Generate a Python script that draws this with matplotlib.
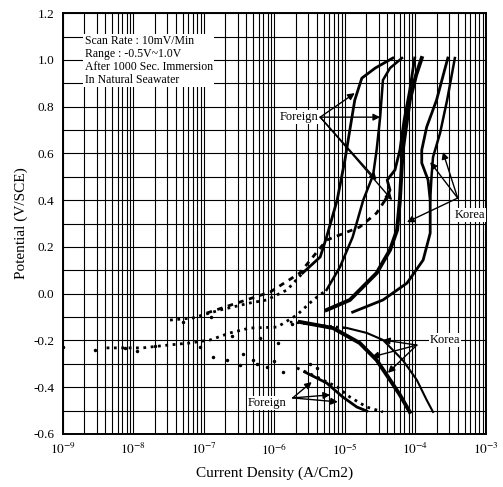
import numpy as np
import matplotlib.pyplot as plt
from matplotlib.ticker import LogLocator, MultipleLocator, FixedLocator, NullFormatter

plt.rcParams['font.family'] = ['Liberation Serif', 'DejaVu Serif']
plt.rcParams['mathtext.fontset'] = 'stix'

# log10(current density, A/cm2) and potential (V/SCE)
# foreign anodic branches
f1_dot_logi = [-7.48, -7.16, -6.77, -6.35, -6.11, -5.82, -5.60]
f1_dot_e = [-0.113, -0.104, -0.070, -0.040, -0.027, 0.016, 0.088]
f1_logi = [-5.60, -5.35, -5.26, -5.11, -5.00, -4.93, -4.86, -4.76, -4.57, -4.32]
f1_e = [0.088, 0.157, 0.242, 0.400, 0.571, 0.700, 0.828, 0.922, 0.965, 1.008]

f2_dot_logi = [-8.38, -7.87, -7.51, -7.20, -6.91, -6.63, -6.35, -5.96, -5.68, -5.45, -5.26]
f2_dot_e = [-0.232, -0.232, -0.220, -0.211, -0.198, -0.168, -0.147, -0.143, -0.091, -0.027, 0.016]
f2_logi = [-5.26, -5.07, -4.89, -4.74, -4.60, -4.55, -4.50, -4.46, -4.36, -4.19]
f2_e = [0.016, 0.114, 0.242, 0.400, 0.507, 0.614, 0.755, 0.914, 0.965, 1.008]

f3_dash_logi = [-6.96, -6.53, -6.06, -5.64, -5.26, -4.79, -4.55, -4.43]
f3_dash_e = [-0.083, -0.040, 0.007, 0.088, 0.229, 0.285, 0.345, 0.400]
f3_logi = [-4.43, -4.36, -4.40, -4.29, -4.22, -4.16, -4.08, -4.01]
f3_e = [0.400, 0.443, 0.486, 0.529, 0.614, 0.742, 0.871, 1.008]

# korean anodic branches
k1_logi = [-5.26, -4.93, -4.55, -4.36, -4.26, -4.22, -4.18, -4.08, -3.99, -3.91]
k1_e = [-0.070, -0.027, 0.088, 0.187, 0.272, 0.400, 0.614, 0.828, 0.935, 1.008]
k2_logi = [-4.89, -4.46, -4.12, -3.89, -3.79, -3.79, -3.82, -3.91, -3.91, -3.84, -3.70, -3.54]
k2_e = [-0.079, -0.027, 0.045, 0.144, 0.259, 0.400, 0.486, 0.559, 0.614, 0.713, 0.828, 1.008]
k3_logi = [-3.79, -3.77, -3.75, -3.65, -3.55, -3.44]
k3_e = [0.400, 0.507, 0.584, 0.687, 0.828, 1.008]

# cathodic branches
kc1_dot_logi = [-5.78, -5.40, -4.97]
kc1_dot_e = [-0.121, -0.134, -0.147]
kc1_logi = [-4.97, -4.69, -4.46, -4.18, -3.98, -3.84, -3.75]
kc1_e = [-0.147, -0.168, -0.198, -0.284, -0.369, -0.455, -0.506]
kc2_logi = [-5.64, -5.17, -4.79, -4.55, -4.36, -4.22, -4.08]
kc2_e = [-0.121, -0.147, -0.211, -0.284, -0.369, -0.433, -0.506]
fc1_logi = [-5.68, -5.40, -5.11, -4.93, -4.69, -4.46]
fc1_e = [-0.318, -0.356, -0.399, -0.442, -0.485, -0.506]
fc2_logi = [-5.57, -5.26, -5.03, -4.83, -4.69]
fc2_e = [-0.335, -0.382, -0.442, -0.485, -0.502]

# scattered points near the corrosion potential
scat_logi = [-9.0, -8.55, -8.12, -7.95, -7.7, -7.06, -6.87, -6.67, -6.49, -6.30, -6.11, -5.88,
             -7.3, -6.9, -6.6, -6.2, -5.95, -5.75, -6.45, -6.25, -6.0, -5.5, -5.4]
scat_e = [-0.228, -0.241, -0.232, -0.245, -0.225, -0.228, -0.271, -0.284, -0.305, -0.284, -0.314, -0.335,
          -0.12, -0.10, -0.18, -0.19, -0.21, -0.13, -0.26, -0.30, -0.29, -0.30, -0.32]

fig = plt.figure(figsize=(5.03, 4.87), dpi=100)
ax = fig.add_axes([0.125, 0.109, 0.841, 0.864])

def p(lg):
    return 10 ** np.array(lg)

ax.plot(p(f1_dot_logi), f1_dot_e, ':', color='k', lw=2)
ax.plot(p(f1_logi), f1_e, color='k', lw=2)
ax.plot(p(f2_dot_logi), f2_dot_e, ':', color='k', lw=2)
ax.plot(p(f2_logi), f2_e, color='k', lw=1.8)
ax.plot(p(f3_dash_logi), f3_dash_e, '--', color='k', lw=2, dashes=(2, 2))
ax.plot(p(f3_logi), f3_e, color='k', lw=2)
ax.plot(p(k1_logi), k1_e, color='k', lw=2.8)
ax.plot(p(k2_logi), k2_e, color='k', lw=2)
ax.plot(p(k3_logi), k3_e, color='k', lw=1.8)
ax.plot(p(kc1_dot_logi), kc1_dot_e, ':', color='k', lw=1.8)
ax.plot(p(kc1_logi), kc1_e, color='k', lw=1.5)
ax.plot(p(kc2_logi), kc2_e, color='k', lw=2.8)
ax.plot(p(fc1_logi), fc1_e, ':', color='k', lw=2)
ax.plot(p(fc2_logi), fc2_e, color='k', lw=2)
ax.plot(p(scat_logi), scat_e, '.', color='k', ms=3)

ax.set_xscale('log')
ax.set_xlim(1e-9, 1e-3)
ax.set_ylim(-0.6, 1.2)
ax.xaxis.set_major_locator(FixedLocator([10.0 ** k for k in range(-9, -2)]))
ax.set_xticklabels([r'$10^{%d}$' % k for k in range(-9, -2)])
ax.xaxis.set_minor_locator(LogLocator(base=10, subs=np.arange(2, 10)))
ax.xaxis.set_minor_formatter(NullFormatter())
ax.yaxis.set_major_locator(MultipleLocator(0.2))
ax.yaxis.set_minor_locator(MultipleLocator(0.1))
ax.set_yticklabels(['%.1f' % v for v in ax.get_yticks()])
ax.tick_params(which='both', length=0, labelsize=9.5, pad=6)
ax.grid(which='both', color='k', lw=0.8)
for s in ax.spines.values():
    s.set_linewidth(1.4)

ax.set_xlabel('Current Density (A/Cm2)', fontsize=11, labelpad=6)
ax.set_ylabel('Potential (V/SCE)', fontsize=11, labelpad=4)

txt = 'Scan Rate : 10mV/Min\nRange : -0.5V~1.0V\nAfter 1000 Sec. Immersion\nIn Natural Seawater'
ax.text(10 ** -8.69, 1.105, txt, fontsize=8.5, va='top', ha='left', linespacing=1.1,
        bbox=dict(facecolor='white', edgecolor='none', pad=1))

arr = dict(arrowstyle='-|>', color='k', lw=1, mutation_scale=10, shrinkA=0, shrinkB=0)

ax.text(10 ** -5.38, 0.755, 'Foreign', fontsize=9, ha='right', va='center',
        bbox=dict(facecolor='white', edgecolor='none', pad=0.5))
for tx, ty in [(-4.86, 0.858), (-4.50, 0.755), (-4.55, 0.486), (-4.33, 0.400)]:
    ax.annotate('', xy=(10 ** tx, ty), xytext=(10 ** -5.35, 0.755), arrowprops=arr)

ax.text(10 ** -3.22, 0.336, 'Korea', fontsize=9, ha='center', va='center',
        bbox=dict(facecolor='white', edgecolor='none', pad=0.5))
for tx, ty in [(-3.61, 0.606), (-3.79, 0.563), (-4.12, 0.306)]:
    ax.annotate('', xy=(10 ** tx, ty), xytext=(10 ** -3.40, 0.409), arrowprops=arr)

ax.text(10 ** -3.58, -0.198, 'Korea', fontsize=9, ha='center', va='center',
        bbox=dict(facecolor='white', edgecolor='none', pad=0.5))
for tx, ty in [(-4.46, -0.198), (-4.62, -0.271), (-4.39, -0.339)]:
    ax.annotate('', xy=(10 ** tx, ty), xytext=(10 ** -3.98, -0.220), arrowprops=arr)

ax.text(10 ** -6.11, -0.468, 'Foreign', fontsize=9, ha='center', va='center',
        bbox=dict(facecolor='white', edgecolor='none', pad=0.5))
for tx, ty in [(-5.47, -0.378), (-5.21, -0.433), (-5.10, -0.463)]:
    ax.annotate('', xy=(10 ** tx, ty), xytext=(10 ** -5.74, -0.446), arrowprops=arr)

plt.savefig('out.png', dpi=100)
